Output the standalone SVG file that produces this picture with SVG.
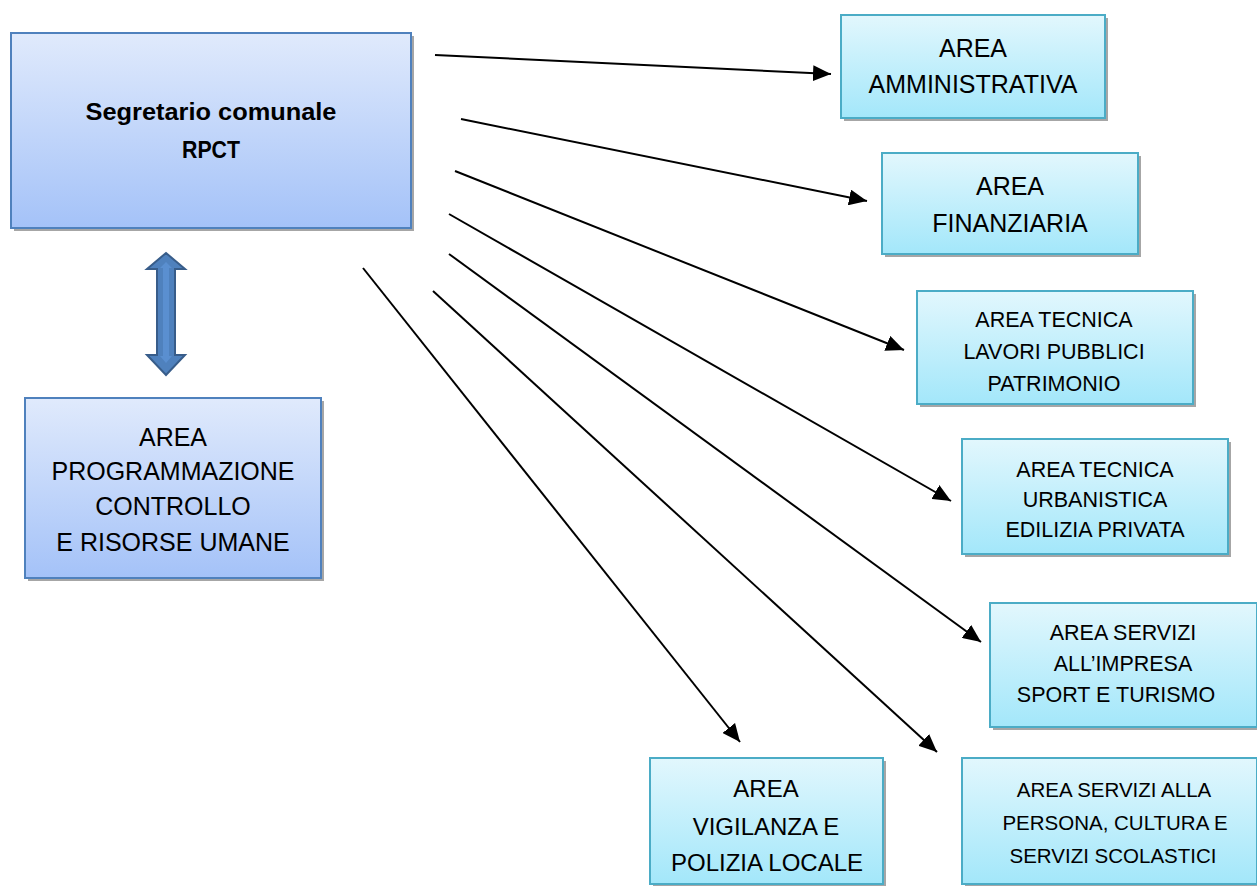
<svg xmlns="http://www.w3.org/2000/svg" width="1257" height="886" viewBox="0 0 1257 886">
  <defs>
    <linearGradient id="gBlue" x1="0" y1="0" x2="0" y2="1">
      <stop offset="0" stop-color="#e0eafc"/>
      <stop offset="1" stop-color="#a4c2f8"/>
    </linearGradient>
    <linearGradient id="gCyan" x1="0" y1="0" x2="0" y2="1">
      <stop offset="0" stop-color="#e2f7fd"/>
      <stop offset="1" stop-color="#a3e7fa"/>
    </linearGradient>
    <marker id="ah" viewBox="0 0 18 16" refX="18" refY="8" markerWidth="18" markerHeight="16" markerUnits="userSpaceOnUse" orient="auto">
      <path d="M0,0 L18,8 L0,16 Z" fill="#000"/>
    </marker>
  </defs>
  <style>
    .shadow { fill: #a6a6a6; }
    .blue { fill: url(#gBlue); stroke: #4f81bd; stroke-width: 2; }
    .cyan { fill: url(#gCyan); stroke: #4bacc6; stroke-width: 2; }
    text { font-family: "Liberation Sans", Arial, sans-serif; fill: #000; text-anchor: middle; }
    .bold { font-weight: bold; font-size: 23px; }
    .t25 { font-size: 25px; }
    .t24 { font-size: 24px; }
    .t21 { font-size: 21px; }
    .t215 { font-size: 21.5px; }
    .t20 { font-size: 20.5px; }
    .conn line { stroke: #000; stroke-width: 2; marker-end: url(#ah); }
  </style>
  <rect width="1257" height="886" fill="#fff"/>

  <g id="segretario">
    <rect class="shadow" x="14" y="36" width="400" height="195"/>
    <rect class="blue" x="11" y="33" width="400" height="195"/>
    <text class="bold" x="211" y="120" textLength="251" lengthAdjust="spacingAndGlyphs">Segretario comunale</text>
    <text class="bold" x="211" y="158" textLength="58" lengthAdjust="spacingAndGlyphs">RPCT</text>
  </g>

  <g id="double-arrow">
    <polygon points="166,253 185,269 175,269 175,355 185,355 166,375 147,355 157,355 157,269 147,269" fill="#4f81bd" stroke="#385d8a" stroke-width="2"/>
    <polygon points="166,262 172,268 169,268 169,356 172,356 166,363 160,356 163,356 163,268 160,268" fill="#5a8fd0"/>
  </g>

  <g id="programmazione">
    <rect class="shadow" x="28" y="401" width="296" height="180"/>
    <rect class="blue" x="25" y="398" width="296" height="180"/>
    <text class="t25" x="173" y="446">AREA</text>
    <text class="t25" x="173" y="480">PROGRAMMAZIONE</text>
    <text class="t25" x="173" y="515">CONTROLLO</text>
    <text class="t25" x="173" y="551">E RISORSE UMANE</text>
  </g>

  <g id="amministrativa">
    <rect class="shadow" x="844" y="18" width="264" height="103"/>
    <rect class="cyan" x="841" y="15" width="264" height="103"/>
    <text class="t25" x="973" y="57">AREA</text>
    <text class="t25" x="973" y="93">AMMINISTRATIVA</text>
  </g>

  <g id="finanziaria">
    <rect class="shadow" x="885" y="156" width="256" height="101"/>
    <rect class="cyan" x="882" y="153" width="256" height="101"/>
    <text class="t25" x="1010" y="195">AREA</text>
    <text class="t25" x="1010" y="232">FINANZIARIA</text>
  </g>

  <g id="tecnica-lp">
    <rect class="shadow" x="920" y="294" width="276" height="113"/>
    <rect class="cyan" x="917" y="291" width="276" height="113"/>
    <text class="t215" x="1054" y="327">AREA TECNICA</text>
    <text class="t215" x="1054" y="359">LAVORI PUBBLICI</text>
    <text class="t215" x="1054" y="391">PATRIMONIO</text>
  </g>

  <g id="tecnica-urbanistica">
    <rect class="shadow" x="965" y="442" width="266" height="115"/>
    <rect class="cyan" x="962" y="439" width="266" height="115"/>
    <text class="t215" x="1095" y="477">AREA TECNICA</text>
    <text class="t215" x="1095" y="507">URBANISTICA</text>
    <text class="t215" x="1095" y="537">EDILIZIA PRIVATA</text>
  </g>

  <g id="servizi-impresa">
    <rect class="shadow" x="993" y="606" width="267" height="124"/>
    <rect class="cyan" x="990" y="603" width="267" height="124"/>
    <text class="t215" x="1123" y="640">AREA SERVIZI</text>
    <text class="t215" x="1123" y="671">ALL’IMPRESA</text>
    <text class="t215" x="1116" y="702">SPORT E TURISMO</text>
  </g>

  <g id="vigilanza">
    <rect class="shadow" x="653" y="761" width="233" height="126"/>
    <rect class="cyan" x="650" y="758" width="233" height="126"/>
    <text class="t24" x="766" y="797">AREA</text>
    <text class="t24" x="766" y="835">VIGILANZA E</text>
    <text class="t24" x="767" y="871">POLIZIA LOCALE</text>
  </g>

  <g id="servizi-persona">
    <rect class="shadow" x="965" y="761" width="295" height="126"/>
    <rect class="cyan" x="962" y="758" width="295" height="126"/>
    <text class="t20" x="1114" y="797">AREA SERVIZI ALLA</text>
    <text class="t20" x="1115" y="830">PERSONA, CULTURA E</text>
    <text class="t20" x="1113" y="863">SERVIZI SCOLASTICI</text>
  </g>

  <g id="connectors" class="conn">
    <line x1="435" y1="55" x2="831" y2="74"/>
    <line x1="461" y1="119" x2="867" y2="201"/>
    <line x1="455" y1="171" x2="904" y2="350"/>
    <line x1="449" y1="214" x2="951" y2="501"/>
    <line x1="449" y1="254" x2="981" y2="642"/>
    <line x1="433" y1="291" x2="937" y2="752"/>
    <line x1="363" y1="268" x2="740" y2="742"/>
  </g>
</svg>
